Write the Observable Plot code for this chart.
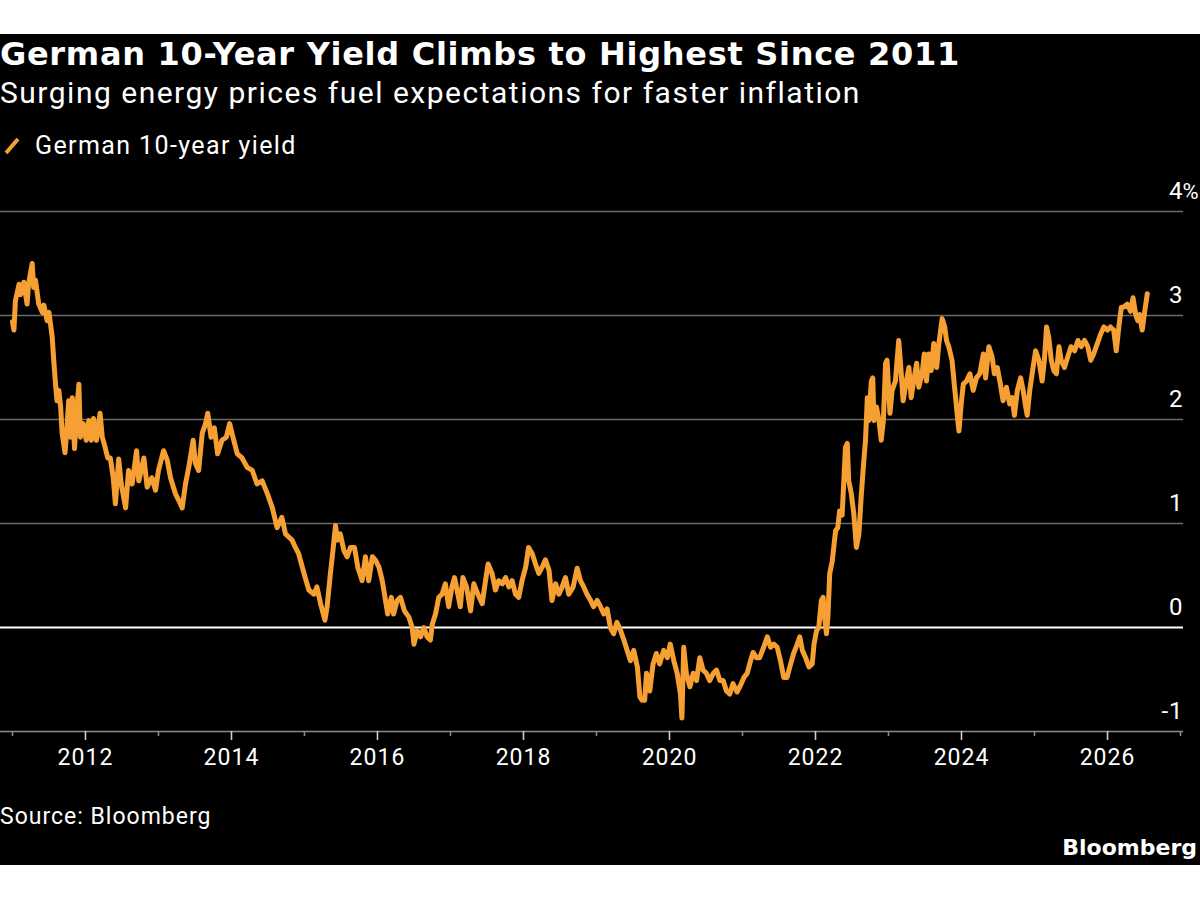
<!DOCTYPE html>
<html>
<head>
<meta charset="utf-8">
<script src="https://cdn.jsdelivr.net/npm/d3@7"></script>
<script src="https://cdn.jsdelivr.net/npm/@observablehq/plot@0.6"></script>
<style>
  html, body { margin: 0; padding: 0; background: #ffffff; }
  body { width: 1200px; height: 900px; position: relative; overflow: hidden; font-family: Roboto, "Noto Sans", sans-serif; }
  #panel { position: absolute; left: 0; top: 34px; width: 1200px; height: 831px; background: #000; }
  .abs { position: absolute; color: #fff; white-space: nowrap; }
  #title { left: 0; top: 35px; font-family: "DejaVu Sans", sans-serif; font-weight: bold; font-size: 32px; letter-spacing: 0.7px; line-height: 38px; }
  #subtitle { left: 0; top: 75px; font-size: 30px; letter-spacing: 1.5px; line-height: 36px; }
  #legend { left: 3px; top: 131px; font-size: 25px; letter-spacing: 1.4px; line-height: 30px; display: flex; align-items: center; }
  #legend svg { margin-right: 14px; }
  #source { left: 0; top: 802px; font-size: 23px; letter-spacing: 1px; line-height: 30px; }
  #logo { right: 3px; top: 833px; font-weight: bold; font-size: 22px; line-height: 30px; font-family: "DejaVu Sans", sans-serif; }
  #plot { position: absolute; left: 0; top: 170px; }
  #plot text { letter-spacing: 1px; }
  #plot g.pct text { letter-spacing: 0; }
</style>
</head>
<body>
<div id="panel"></div>
<div class="abs" id="title">German 10-Year Yield Climbs to Highest Since 2011</div>
<div class="abs" id="subtitle">Surging energy prices fuel expectations for faster inflation</div>
<div class="abs" id="legend"><svg width="18" height="20"><line x1="3" y1="17" x2="15" y2="3" stroke="#f6a033" stroke-width="4"/></svg><span>German 10-year yield</span></div>
<div id="plot"></div>
<div class="abs" id="source">Source: Bloomberg</div>
<div class="abs" id="logo">Bloomberg</div>
<script>
// Dates as decimal years, yields in percent
const years = [
2011.00,2011.02,2011.04,2011.09,2011.11,2011.155,2011.20,2011.22,2011.27,2011.29,2011.315,2011.36,2011.41,2011.43,2011.475,2011.50,2011.545,2011.565,2011.59,2011.61,2011.635,2011.66,2011.68,2011.72,2011.75,2011.77,2011.795,2011.82,2011.85,2011.88,2011.91,2011.93,2011.97,
2012.01,2012.045,2012.08,2012.11,2012.15,2012.20,2012.23,2012.27,2012.305,2012.34,2012.38,2012.41,2012.455,2012.49,2012.55,2012.59,2012.64,2012.70,2012.73,2012.80,2012.845,2012.91,2012.96,
2013.00,2013.07,2013.12,2013.165,2013.23,2013.30,2013.325,2013.37,2013.415,2013.475,2013.505,2013.55,2013.60,2013.645,2013.675,2013.72,2013.765,2013.81,2013.87,2013.93,2013.975,
2014.02,2014.08,2014.145,2014.215,2014.285,2014.35,2014.42,2014.49,2014.56,2014.625,2014.69,2014.74,2014.785,2014.83,2014.875,2014.92,2014.97,
2015.01,2015.06,2015.13,2015.17,2015.22,2015.28,2015.31,2015.355,2015.39,2015.425,2015.455,2015.49,2015.54,2015.585,2015.63,2015.685,2015.73,2015.79,2015.835,2015.88,2015.93,2015.97,
2016.02,2016.065,2016.11,2016.14,2016.19,2016.22,2016.27,2016.315,2016.37,2016.43,2016.475,2016.50,2016.545,2016.59,2016.635,2016.68,2016.725,2016.75,2016.795,2016.84,2016.885,2016.93,2016.975,
2017.02,2017.055,2017.09,2017.135,2017.17,2017.22,2017.275,2017.32,2017.375,2017.435,2017.48,2017.515,2017.57,2017.615,2017.66,2017.71,2017.755,2017.80,2017.845,2017.89,2017.935,2017.98,
2018.03,2018.07,2018.12,2018.165,2018.21,2018.255,2018.30,2018.35,2018.39,2018.44,2018.485,2018.53,2018.575,2018.62,2018.68,2018.735,2018.78,2018.825,2018.87,2018.92,2018.96,
2019.01,2019.055,2019.10,2019.145,2019.19,2019.235,2019.28,2019.33,2019.375,2019.42,2019.465,2019.51,2019.56,2019.595,2019.625,2019.66,2019.685,2019.73,2019.775,2019.82,2019.865,2019.92,2019.97,
2020.01,2020.06,2020.105,2020.15,2020.17,2020.195,2020.23,2020.28,2020.325,2020.37,2020.415,2020.46,2020.505,2020.55,2020.60,2020.645,2020.69,2020.735,2020.78,2020.825,2020.87,2020.925,2020.97,
2021.02,2021.065,2021.11,2021.145,2021.19,2021.235,2021.29,2021.34,2021.385,2021.43,2021.475,2021.52,2021.565,2021.61,2021.66,2021.70,2021.75,2021.785,2021.82,2021.865,2021.91,2021.955,2021.98,
2022.015,2022.045,2022.08,2022.105,2022.12,2022.15,2022.17,2022.195,2022.23,2022.25,2022.275,2022.305,2022.33,2022.365,2022.41,2022.435,2022.455,2022.49,2022.525,2022.56,2022.595,2022.625,2022.655,2022.685,2022.71,2022.73,2022.765,2022.785,2022.80,2022.835,2022.87,2022.90,2022.93,2022.96,2022.98,
2023.02,2023.05,2023.095,2023.14,2023.165,2023.20,2023.245,2023.28,2023.31,2023.345,2023.385,2023.415,2023.46,2023.49,2023.52,2023.55,2023.585,2023.62,2023.66,2023.69,2023.735,2023.77,2023.795,2023.825,2023.87,2023.905,2023.94,2023.965,
2024.00,2024.025,2024.07,2024.115,2024.16,2024.205,2024.25,2024.30,2024.33,2024.375,2024.42,2024.45,2024.49,2024.525,2024.57,2024.615,2024.66,2024.695,2024.725,2024.765,2024.81,2024.845,2024.88,2024.90,2024.935,2024.98,
2025.015,2025.06,2025.105,2025.135,2025.165,2025.195,2025.23,2025.265,2025.30,2025.335,2025.365,2025.41,2025.455,2025.50,2025.55,2025.595,2025.64,2025.685,2025.73,2025.77,2025.81,2025.86,2025.905,2025.95,
2026.00,2026.04,2026.085,2026.12,2026.155,2026.19,2026.22,2026.27,2026.315,2026.35,2026.385,2026.415,2026.44,2026.475,2026.51,2026.545
];
const yields = [
2.94,2.86,3.14,3.30,3.20,3.32,3.11,3.30,3.50,3.27,3.34,3.11,3.03,3.10,2.95,3.03,2.79,2.57,2.34,2.18,2.28,2.12,1.87,1.68,1.96,2.18,1.83,2.21,1.72,2.09,2.34,1.83,1.96,
1.80,1.99,1.80,2.01,1.80,2.06,1.83,1.73,1.63,1.63,1.44,1.19,1.62,1.38,1.15,1.51,1.38,1.70,1.41,1.63,1.35,1.44,1.32,
1.51,1.70,1.61,1.44,1.29,1.19,1.15,1.38,1.54,1.80,1.58,1.51,1.87,1.96,2.06,1.83,1.92,1.67,1.80,1.83,1.96,
1.83,1.67,1.63,1.54,1.51,1.38,1.41,1.29,1.15,0.96,1.06,0.90,0.87,0.84,0.77,0.71,0.58,
0.48,0.36,0.32,0.39,0.23,0.07,0.20,0.52,0.74,0.98,0.84,0.90,0.74,0.68,0.77,0.77,0.58,0.45,0.68,0.45,0.68,0.65,
0.58,0.45,0.26,0.13,0.29,0.13,0.26,0.29,0.16,0.10,0.00,-0.16,-0.03,-0.09,0.00,-0.09,-0.12,0.03,0.13,0.29,0.32,0.42,0.20,
0.39,0.48,0.36,0.20,0.48,0.39,0.16,0.42,0.32,0.23,0.45,0.61,0.52,0.36,0.45,0.42,0.48,0.39,0.45,0.32,0.29,0.45,
0.58,0.77,0.71,0.61,0.52,0.58,0.65,0.55,0.26,0.42,0.32,0.39,0.48,0.32,0.39,0.57,0.45,0.39,0.32,0.26,0.20,
0.26,0.20,0.13,0.18,0.00,-0.06,0.05,-0.03,-0.12,-0.22,-0.32,-0.22,-0.38,-0.67,-0.70,-0.70,-0.44,-0.61,-0.35,-0.25,-0.35,-0.22,-0.29,
-0.16,-0.32,-0.44,-0.64,-0.87,-0.19,-0.44,-0.57,-0.44,-0.51,-0.29,-0.41,-0.44,-0.51,-0.44,-0.41,-0.51,-0.51,-0.61,-0.64,-0.54,-0.62,-0.56,
-0.48,-0.44,-0.32,-0.24,-0.29,-0.29,-0.19,-0.09,-0.19,-0.16,-0.19,-0.32,-0.48,-0.48,-0.35,-0.25,-0.16,-0.09,-0.22,-0.29,-0.38,-0.35,-0.16,
-0.03,0.00,0.26,0.29,0.13,-0.06,0.10,0.52,0.64,0.77,0.93,0.96,1.12,1.08,1.73,1.77,1.41,1.29,1.09,0.77,0.90,1.25,1.54,1.80,2.21,1.99,2.37,2.40,1.99,2.12,1.99,1.80,1.99,2.54,2.57,
2.06,2.28,2.37,2.76,2.54,2.18,2.37,2.50,2.21,2.37,2.54,2.31,2.44,2.63,2.37,2.63,2.47,2.73,2.50,2.73,2.97,2.89,2.76,2.70,2.57,2.31,2.06,1.89,
2.18,2.34,2.37,2.44,2.28,2.40,2.44,2.63,2.40,2.70,2.60,2.44,2.50,2.37,2.18,2.31,2.15,2.21,2.04,2.28,2.40,2.28,2.12,2.04,2.28,2.50,
2.66,2.57,2.37,2.57,2.89,2.79,2.57,2.47,2.44,2.70,2.57,2.50,2.60,2.70,2.66,2.76,2.70,2.76,2.70,2.57,2.63,2.73,2.82,2.89,
2.86,2.89,2.86,2.66,2.89,3.08,3.08,3.11,3.04,3.17,3.01,2.95,3.01,2.86,3.04,3.21
];
const majorYears = [2012, 2014, 2016, 2018, 2020, 2022, 2024, 2026];
const minorYears = [2011, 2013, 2015, 2017, 2019, 2021, 2023, 2025, 2027];
const yTicks = [-1, 0, 1, 2, 3, 4];
const gridTicks = [1, 2, 3, 4];
const pctTick = [4];
const xDomain = [2010.836, 2027.041];
const yDomain = [-1, 4];

const data = years.map((t, i) => ({t, v: yields[i]}));
const orange = "#f6a033";

const chart = Plot.plot({
  width: 1200,
  height: 640,
  marginLeft: 0,
  marginRight: 17,
  marginTop: 41,
  marginBottom: 79,
  style: {background: "transparent", color: "#fff", fontFamily: "Roboto, 'Noto Sans', sans-serif"},
  x: {type: "linear", domain: xDomain, label: null},
  y: {domain: yDomain, axis: null, label: null},
  marks: [
    Plot.ruleY(gridTicks, {stroke: "#6a6a6a", strokeWidth: 1.6}),
    Plot.ruleY([0], {stroke: "#ffffff", strokeWidth: 1.8}),
    Plot.ruleY([-1], {stroke: "#8a8a8a", strokeWidth: 1.6}),
    Plot.axisX({ticks: minorYears.filter(d => d <= xDomain[1]), tickSize: 5, text: null, label: null, stroke: "#8a8a8a", strokeWidth: 1.6}),
    Plot.axisX({ticks: majorYears, tickSize: 9, tickPadding: 8, tickFormat: d => String(d), stroke: "#d0d0d0", strokeWidth: 1.6, fill: "#fff", fontSize: 23, label: null}),
    Plot.text(yTicks, {y: d => d, text: d => String(d), frameAnchor: "right", textAnchor: "end", dy: -20, fill: "#fff", fontSize: 24}),
    Plot.text(pctTick, {y: d => d, text: () => "%", frameAnchor: "right", textAnchor: "start", dx: -1, dy: -20, fill: "#fff", fontSize: 22, className: "pct"}),
    Plot.line(data, {x: "t", y: "v", stroke: orange, strokeWidth: 5, strokeLinejoin: "round", strokeLinecap: "round"})
  ]
});
document.getElementById("plot").appendChild(chart);
</script>
</body>
</html>
